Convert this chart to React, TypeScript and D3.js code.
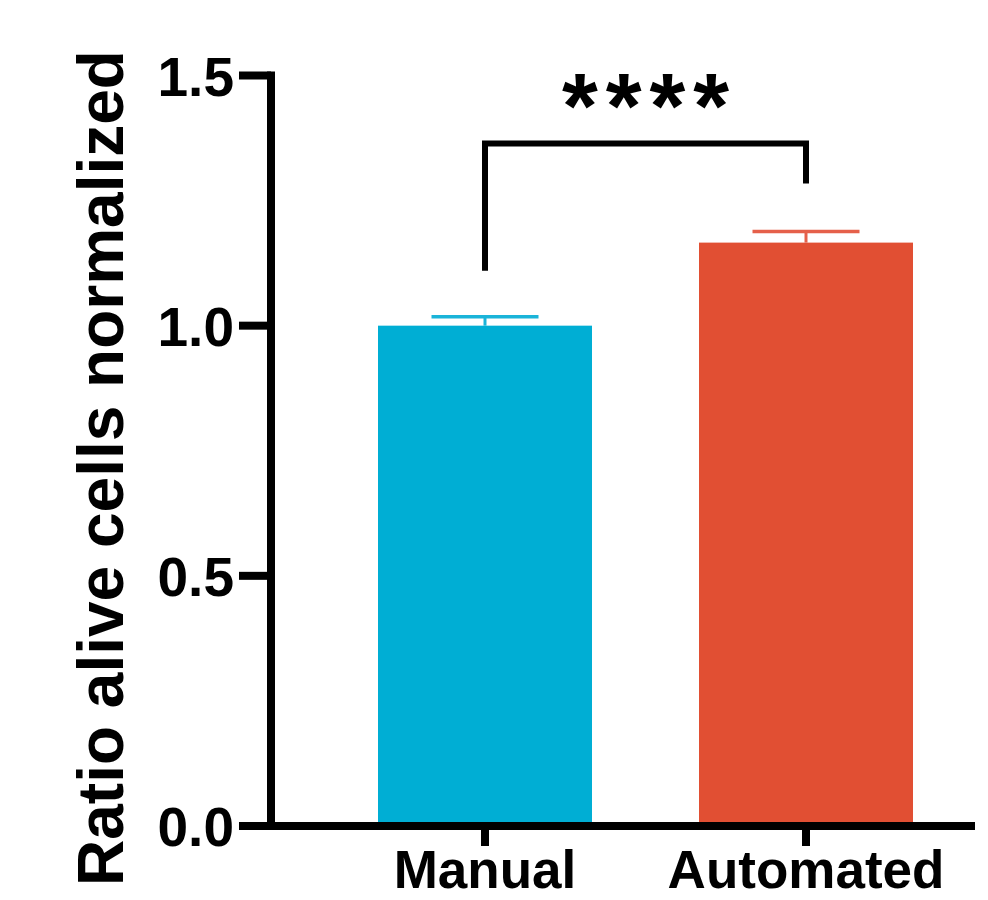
import * as React from 'react';
import * as d3 from 'd3';

// values
const categories = ['Manual', 'Automated'];
const means = [1.0, 1.166];
const sems = [0.018, 0.022];
const barColours = ['#00aed4', '#e14f33'];
const capColours = ['#1ab4d9', '#e5604a'];
const yTicks = [0, 0.5, 1.0, 1.5];
const yTickLabels = ['0.0', '0.5', '1.0', '1.5'];
const yTitle = 'Ratio alive cells normalized';
// significance bracket: left leg end, right leg end, top
const bracketLevels = [1.11, 1.284, 1.364];
const sigLabel = '****';

const W = 988;
const H = 900;
const font = '"Liberation Sans", Arial, sans-serif';

function App() {
  const axisX = 271;
  const y = d3.scaleLinear().domain([0, 1.5]).range([826, 75.5]);
  const x = d3.scaleBand<string>()
    .domain(categories)
    .range([axisX, 1020])
    .paddingInner(1 / 3)
    .paddingOuter(1 / 3);
  const bw = x.bandwidth();
  const cx = (c: string) => (x(c) as number) + bw / 2;

  const bars = categories.map((c, i) => (
    <g key={c}>
      <rect x={x(c)} y={y(means[i])} width={bw} height={y(0) - y(means[i])} fill={barColours[i]} />
      <line x1={cx(c)} x2={cx(c)} y1={y(means[i])} y2={y(means[i] + sems[i])}
        stroke={capColours[i]} strokeWidth={3} />
      <line x1={cx(c) - bw / 4} x2={cx(c) + bw / 4} y1={y(means[i] + sems[i])} y2={y(means[i] + sems[i])}
        stroke={capColours[i]} strokeWidth={3.5} />
    </g>
  ));

  const [leftEnd, rightEnd, top] = bracketLevels;
  const bx1 = cx(categories[0]);
  const bx2 = cx(categories[1]);
  const bracket = d3.line()([
    [bx1, y(leftEnd)],
    [bx1, y(top)],
    [bx2, y(top)],
    [bx2, y(rightEnd)],
  ]) as string;

  return (
    <svg width={W} height={H} style={{ position: 'absolute', left: 0, top: 0, background: '#fff' }}>
      {bars}
      {/* y axis */}
      <line x1={axisX} x2={axisX} y1={y(0) + 4} y2={y(1.5) - 4} stroke="#000" strokeWidth={8} />
      {yTicks.map((t, i) => (
        <g key={t}>
          <line x1={239} x2={axisX} y1={y(t)} y2={y(t)} stroke="#000" strokeWidth={8} />
          <text x={234} y={y(t)} dy="0.37em" textAnchor="end" fontFamily={font} fontWeight="bold"
            fontSize={55}>{yTickLabels[i]}</text>
        </g>
      ))}
      {/* x axis */}
      <line x1={239} x2={975} y1={y(0)} y2={y(0)} stroke="#000" strokeWidth={8} />
      {categories.map(c => (
        <g key={c}>
          <line x1={cx(c)} x2={cx(c)} y1={y(0)} y2={y(0) + 20} stroke="#000" strokeWidth={8} />
          <text x={cx(c)} y={888} textAnchor="middle" fontFamily={font} fontWeight="bold"
            fontSize={53}>{c}</text>
        </g>
      ))}
      <text transform={`translate(123, 468) rotate(-90)`} textAnchor="middle" fontFamily={font}
        fontWeight="bold" fontSize={64}>{yTitle}</text>
      <path d={bracket} fill="none" stroke="#000" strokeWidth={6} />
      <text x={(bx1 + bx2) / 2 + 4} y={138} textAnchor="middle" fontFamily={font} fontWeight="bold"
        fontSize={92} letterSpacing={8}>{sigLabel}</text>
    </svg>
  );
}

export default App;
